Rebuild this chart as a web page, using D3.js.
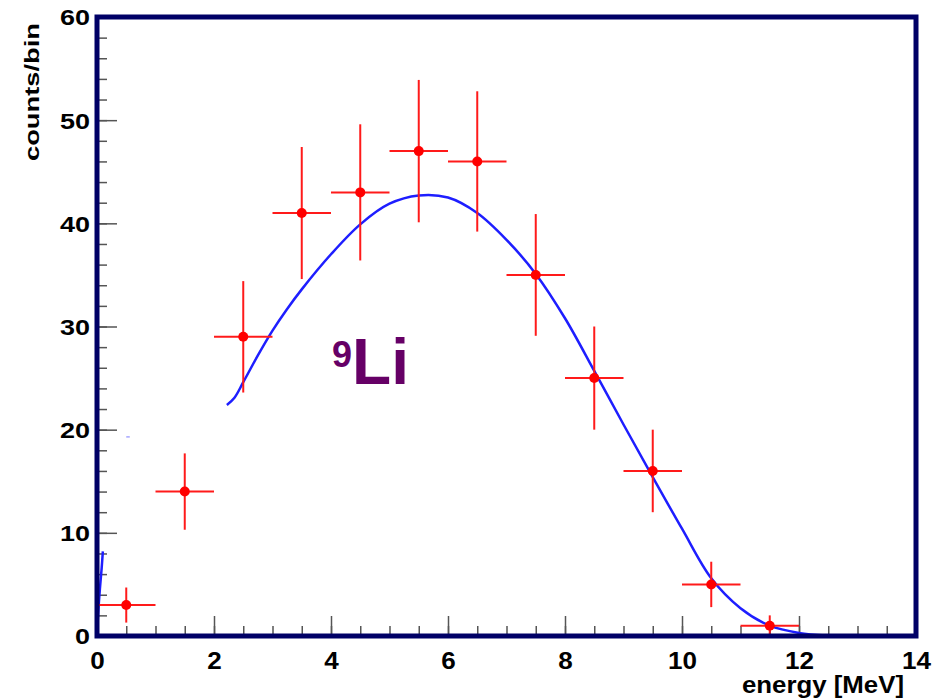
<!DOCTYPE html>
<html>
<head>
<meta charset="utf-8">
<script src="https://cdn.jsdelivr.net/npm/d3@7"></script>
<style>
    body { margin: 0; background: #fff; }
    text { font-family: "Liberation Sans", Arial, Helvetica, sans-serif; font-weight: bold; }
</style>
</head>
<body>
<div class="chart"></div>
<script>
// Histogram data (bin centres, counts, errors).
const binCenters = [0.5, 1.5, 2.5, 3.5, 4.5, 5.5, 6.5, 7.5, 8.5, 9.5, 10.5, 11.5];
const counts = [3, 14, 29, 41, 43, 47, 46, 35, 25, 16, 5, 1];
const countErrors = [1.7, 3.7, 5.4, 6.4, 6.6, 6.9, 6.8, 5.9, 5.0, 4.0, 2.2, 1.0];
const binHalfWidth = 0.5;

// Fitted curve.
const fitX = [2.22, 2.35, 2.5, 2.75, 3, 3.25, 3.5, 4, 4.5, 5, 5.5, 6, 6.5, 7, 7.5, 8, 8.5, 9, 9.5, 10, 10.5, 11, 11.5, 12, 12.5, 13, 14];
const fitY = [22.4, 23.1, 24.6, 27.2, 29.6, 31.7, 33.6, 37.0, 39.9, 41.9, 42.7, 42.5, 41.0, 38.4, 35.1, 30.8, 25.7, 20.5, 15.4, 10.4, 5.6, 2.7, 1.0, 0.3, 0.05, 0, 0];
// Small leftover pieces of the curve near the origin.
const stubX = [0, 0.02, 0.05, 0.08, 0.1];
const stubY = [0, 2.2, 4.6, 6.6, 8.2];
const dotX = [0.5, 0.56];
const dotY = [19.3, 19.3];

const xTicks = [0, 2, 4, 6, 8, 10, 12, 14];
const yTicks = [0, 10, 20, 30, 40, 50, 60];

const width = 944, height = 699;
const frame = {left: 97, right: 916, top: 17, bottom: 636};

const svg = d3.select('.chart')
    .append('svg')
    .attr('width', width)
    .attr('height', height);

const x = d3.scaleLinear().domain([0, 14]).range([frame.left, frame.right]);
const y = d3.scaleLinear().domain([0, 60]).range([frame.bottom, frame.top]);

// Ticks (pointing inwards, left and bottom only)
const tickColor = '#555';
function styleTicks(g) {
    g.select('.domain').remove();
    g.selectAll('.tick line').attr('stroke', tickColor).attr('stroke-width', 1.5);
}

svg.append('g')
    .attr('transform', `translate(0, ${frame.bottom})`)
    .call(d3.axisBottom(x).tickValues(d3.range(0, 14.01, 0.5)).tickSize(-10).tickFormat(''))
    .call(styleTicks);
svg.append('g')
    .attr('transform', `translate(0, ${frame.bottom})`)
    .call(d3.axisBottom(x).tickValues(xTicks).tickSize(-20).tickPadding(0).tickFormat(d3.format('d')))
    .call(styleTicks)
    .selectAll('text')
    .attr('y', 33)
    .attr('dy', 0)
    .attr('textLength', d => String(d).length * 14.5)
    .attr('lengthAdjust', 'spacingAndGlyphs')
    .style('font-size', '23px')
    .style('fill', '#000');

svg.append('g')
    .attr('transform', `translate(${frame.left}, 0)`)
    .call(d3.axisLeft(y).tickValues(d3.range(0, 60.01, 2)).tickSize(-10).tickFormat(''))
    .call(styleTicks);
svg.append('g')
    .attr('transform', `translate(${frame.left}, 0)`)
    .call(d3.axisLeft(y).tickValues(yTicks).tickSize(-20).tickFormat(d3.format('d')))
    .call(styleTicks)
    .selectAll('text')
    .attr('x', -7)
    .attr('dy', '0.36em')
    .attr('textLength', d => String(d).length * 15)
    .attr('lengthAdjust', 'spacingAndGlyphs')
    .style('font-size', '22px')
    .style('fill', '#000');

// Fitted curve
const line = d3.line()
    .x(d => x(d[0]))
    .y(d => y(d[1]))
    .curve(d3.curveCatmullRom);

svg.append('path')
    .datum(fitX.map((v, i) => [v, fitY[i]]))
    .attr('d', line)
    .attr('fill', 'none')
    .attr('stroke', '#1e1eff')
    .attr('stroke-width', 2.5);

svg.append('path')
    .datum(stubX.map((v, i) => [v, stubY[i]]))
    .attr('d', line)
    .attr('fill', 'none')
    .attr('stroke', '#1e1eff')
    .attr('stroke-width', 2.5);

svg.append('path')
    .datum(dotX.map((v, i) => [v, dotY[i]]))
    .attr('d', line)
    .attr('fill', 'none')
    .attr('stroke', '#1e1eff')
    .attr('stroke-opacity', 0.4)
    .attr('stroke-width', 1.5);

// Data points with error bars
const points = binCenters.map((c, i) => ({x: c, y: counts[i], e: countErrors[i]}));
const pg = svg.append('g').attr('class', 'points');

pg.selectAll('.xerr')
    .data(points)
    .enter()
    .append('line')
    .attr('x1', d => x(d.x - binHalfWidth))
    .attr('x2', d => x(d.x + binHalfWidth))
    .attr('y1', d => y(d.y))
    .attr('y2', d => y(d.y))
    .attr('stroke', '#ff1a1a')
    .attr('stroke-width', 2);

pg.selectAll('.yerr')
    .data(points)
    .enter()
    .append('line')
    .attr('x1', d => x(d.x))
    .attr('x2', d => x(d.x))
    .attr('y1', d => y(d.y - d.e))
    .attr('y2', d => y(d.y + d.e))
    .attr('stroke', '#ff1a1a')
    .attr('stroke-width', 2);

pg.selectAll('circle')
    .data(points)
    .enter()
    .append('circle')
    .attr('cx', d => x(d.x))
    .attr('cy', d => y(d.y))
    .attr('r', 5)
    .attr('fill', '#ff0000');

// Frame
svg.append('rect')
    .attr('x', frame.left)
    .attr('y', frame.top)
    .attr('width', frame.right - frame.left)
    .attr('height', frame.bottom - frame.top)
    .attr('fill', 'none')
    .attr('stroke', '#000066')
    .attr('stroke-width', 5);

// Axis titles
svg.append('text')
    .attr('transform', `translate(39, 23) rotate(-90)`)
    .attr('text-anchor', 'end')
    .attr('textLength', 138)
    .attr('lengthAdjust', 'spacingAndGlyphs')
    .style('font-size', '21px')
    .text('counts/bin');

svg.append('text')
    .attr('x', 742)
    .attr('y', 693)
    .attr('textLength', 162)
    .attr('lengthAdjust', 'spacingAndGlyphs')
    .style('font-size', '23px')
    .text('energy [MeV]');

// Isotope label
const label = svg.append('text')
    .attr('x', 332)
    .attr('y', 384)
    .style('fill', '#660066');
label.append('tspan')
    .attr('dy', -17)
    .style('font-size', '36px')
    .text('9');
label.append('tspan')
    .attr('dy', 17)
    .style('font-size', '64px')
    .text('Li');
</script>
</body>
</html>
